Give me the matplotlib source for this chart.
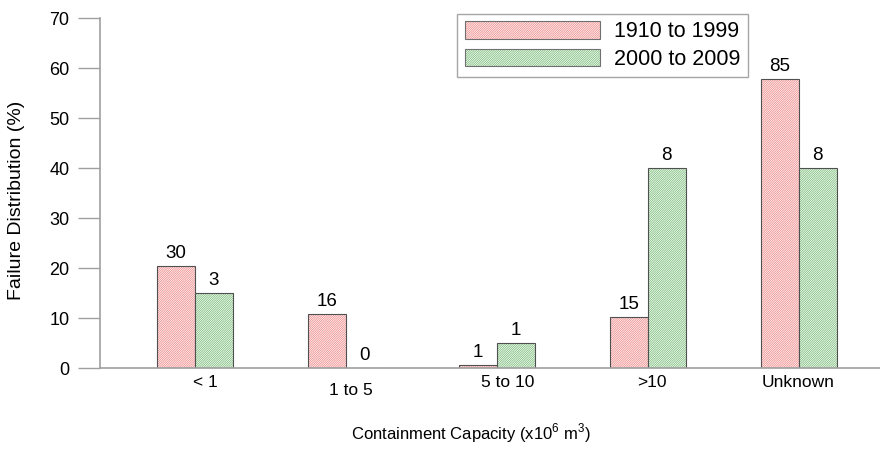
import matplotlib
matplotlib.use("Agg")
import matplotlib.pyplot as plt
import numpy as np
from matplotlib.patches import Patch
from matplotlib.legend_handler import HandlerTuple

plt.rcParams["font.family"] = ["Liberation Sans", "DejaVu Sans"]
plt.rcParams["mathtext.fontset"] = "custom"
plt.rcParams["mathtext.rm"] = "Liberation Sans"
plt.rcParams["hatch.linewidth"] = 0.6

categories = ["< 1", "1 to 5", "5 to 10", ">10", "Unknown"]
pct_old = [20.4, 10.9, 0.7, 10.2, 57.8]   # 1910 to 1999
pct_new = [15.0, 0.0, 5.0, 40.0, 40.0]    # 2000 to 2009
count_old = [30, 16, 1, 15, 85]
count_new = [3, 0, 1, 8, 8]
series_names = ["1910 to 1999", "2000 to 2009"]

RED = "#f08c8c"
GREEN = "#80c080"
EDGE = "#505050"
AXIS = "#a0a0a0"
HATCH = "/" * 15

fig = plt.figure(figsize=(8.8, 4.51), dpi=100)
ax = fig.add_axes([0.1136, 0.184, 0.8864, 0.776])

x = np.arange(len(categories))
w = 0.252

for vals, offs, col in [(pct_old, -w / 2, RED), (pct_new, w / 2, GREEN)]:
    ax.bar(x + offs, vals, w, facecolor="white", edgecolor=col, hatch=HATCH, linewidth=0)
    ax.bar(x + offs, vals, w, fill=False, edgecolor=EDGE, linewidth=0.8)

for xi, v, c in zip(x, pct_old, count_old):
    ax.text(xi - w / 2, v + 0.8, str(c), ha="center", va="bottom", fontsize=13.5)
for xi, v, c in zip(x, pct_new, count_new):
    ax.text(xi + w / 2, v + 0.8, str(c), ha="center", va="bottom", fontsize=13.5)

ax.set_xlim(-0.63, 4.54)
ax.set_ylim(0, 70)
ax.set_yticks(np.arange(0, 71, 10))
ax.tick_params(axis="y", length=16, color=AXIS, width=1, pad=6, labelsize=13)
ax.set_xticks([])

# category labels sit slightly off the bar centres, "1 to 5" a little lower
label_dx = [0.07, 0.03, 0.07, 0.03, 0.0]
label_dy = [0, -6, 0, 0, 0]
for xi, lab, dx, dy in zip(x, categories, label_dx, label_dy):
    ax.annotate(lab, (xi + dx, 0), xytext=(0, -5 + dy), textcoords="offset points",
                ha="center", va="top", fontsize=12.5)

for s in ["top", "right"]:
    ax.spines[s].set_visible(False)
for s in ["left", "bottom"]:
    ax.spines[s].set_color(AXIS)
    ax.spines[s].set_linewidth(1.2)

ax.set_ylabel("Failure Distribution (%)", fontsize=14)
ax.yaxis.set_label_coords(-0.096, 0.48)
fig.text(0.535, 0.013, r"Containment Capacity (x10$^{6}$ m$^{3}$)", ha="center", va="bottom", fontsize=12)

handles = []
for col in [RED, GREEN]:
    h1 = Patch(facecolor="white", edgecolor=col, hatch=HATCH, linewidth=0)
    h2 = Patch(fill=False, edgecolor="#707070", linewidth=0.8)
    handles.append((h1, h2))
leg = ax.legend(handles, series_names, handler_map={tuple: HandlerTuple(ndivide=1, pad=0)},
                loc="upper left", bbox_to_anchor=(0.458, 1.012), fontsize=15.5,
                handlelength=6.3, handleheight=0.85, frameon=True, fancybox=False,
                borderpad=0.35, labelspacing=0.3, handletextpad=0.65, borderaxespad=0)
leg.get_frame().set_edgecolor("#909090")
leg.get_frame().set_linewidth(1.0)

fig.savefig("out.png", dpi=100)
